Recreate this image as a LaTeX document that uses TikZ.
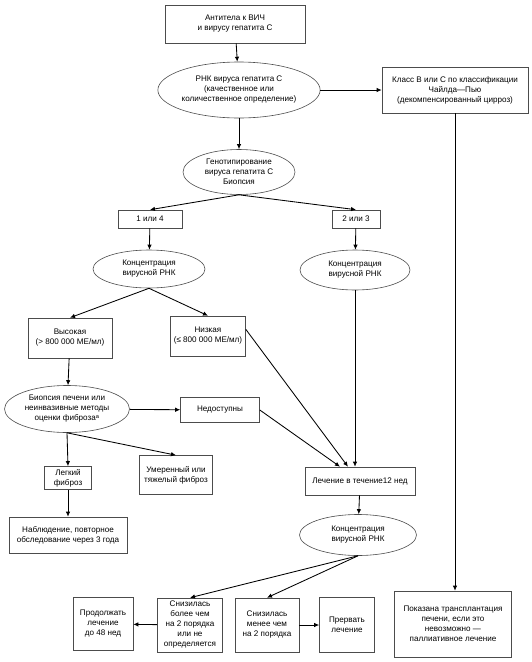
\documentclass[tikz,border=0pt]{standalone}
\usepackage{fontspec}
\setmainfont{Liberation Sans}
\usetikzlibrary{shapes.geometric, arrows.meta, calc}

\begin{document}
\begin{tikzpicture}[x=1pt, y=-1pt,
    box/.style={draw=black!70, line width=0.6pt, rectangle, align=center, inner sep=1pt,
        font=\fontsize{8.1}{10}\selectfont},
    oval/.style={draw=black!70, line width=0.6pt, ellipse, align=center, inner sep=0pt,
        font=\fontsize{8.1}{10}\selectfont},
    arr/.style={draw=black, line width=0.85pt, -{Latex[length=5pt,width=4.5pt]}}]
    \useasboundingbox (0,0) rectangle (531,662);

    % Top of the chart
    \node[box, minimum width=140pt, minimum height=38pt] (ab) at (235,24) {Антитела к ВИЧ\\и вирусу гепатита С};
    \node[oval, minimum width=158pt, minimum height=56pt] (rna) at (239,90) {РНК вируса гепатита С\\(качественное или\\количественное определение)};
    \node[box, minimum width=146pt, minimum height=46pt] (child) at (455,90) {Класс B или C по классификации\\Чайлда—Пью\\(декомпенсированный цирроз)};
    \node[oval, minimum width=112pt, minimum height=45pt] (geno) at (239,172) {Генотипирование\\вируса гепатита С\\Биопсия};

    % Genotypes
    \node[box, minimum width=64pt, minimum height=18pt] (gA) at (150,219) {1 или 4};
    \node[box, minimum width=48pt, minimum height=18pt] (gB) at (356,219) {2 или 3};
    \node[oval, minimum width=112pt, minimum height=38pt] (concA) at (149,269) {Концентрация\\вирусной РНК};
    \node[oval, minimum width=110pt, minimum height=40pt] (concB) at (355,270) {Концентрация\\вирусной РНК};

    % Viral load and fibrosis
    \node[box, minimum width=84pt, minimum height=40pt] (high) at (70,338) {Высокая\\(> 800 000 МЕ/мл)};
    \node[box, minimum width=75pt, minimum height=40pt] (low) at (208,336) {Низкая\\(≤ 800 000 МЕ/мл)};
    \node[oval, minimum width=125pt, minimum height=47pt] (biopsy) at (67,409) {Биопсия печени или\\неинвазивные методы\\оценки фиброза\textsuperscript{а}};
    \node[box, minimum width=79pt, minimum height=25pt] (na) at (220,410) {Недоступны};
    \node[box, minimum width=47pt, minimum height=23pt] (mild) at (68,478) {Легкий\\фиброз};
    \node[box, minimum width=73pt, minimum height=39pt] (severe) at (176,475) {Умеренный или\\тяжелый фиброз};
    \node[box, minimum width=118pt, minimum height=36pt] (watch) at (68,535) {Наблюдение, повторное\\обследование через 3 года};

    % Treatment
    \node[box, minimum width=110pt, minimum height=28pt] (treat) at (360,481) {Лечение в течение12 нед};
    \node[oval, minimum width=117pt, minimum height=41pt] (concC) at (358,535) {Концентрация\\вирусной РНК};

    % Bottom row
    \node[box, minimum width=60pt, minimum height=53pt] (cont) at (103,624) {Продолжать\\лечение\\до 48 нед};
    \node[box, minimum width=65pt, minimum height=54pt] (more) at (190,625) {Снизилась\\более чем\\на 2 порядка\\или не\\определяется};
    \node[box, minimum width=64pt, minimum height=54pt] (less) at (267,625) {Снизилась\\менее чем\\на 2 порядка};
    \node[box, minimum width=55pt, minimum height=55pt] (stop) at (347,625) {Прервать\\лечение};
    \node[box, minimum width=117pt, minimum height=66pt] (transp) at (453,624) {Показана трансплантация\\печени, если это\\невозможно —\\паллиативное лечение};

    % Connectors
    \draw[arr] (ab) -- (rna);
    \draw[arr] (rna) -- (child);
    \draw[arr] (rna) -- (geno);
    \draw[arr] (child.south) -- (child.south |- transp.north);
    \draw[arr] (geno.south) -- (gA.north);
    \draw[arr] (geno.south) -- (gB.north);
    \draw[arr] (gA) -- (concA);
    \draw[arr] (gB) -- (concB);
    \draw[arr] (concA.south) -- (high.north);
    \draw[arr] (concA.south) -- (low.north);
    \draw[arr] (high) -- (biopsy);
    \draw[arr] (biopsy) -- (na);
    \draw[arr] (biopsy.south) -- (mild.north);
    \draw[arr] (biopsy.south) -- (severe.north);
    \draw[arr] (mild) -- (watch);
    \draw[arr] (na.east) -- ($(treat.north)+(-20,0)$);
    \draw[arr] (low.10) -- ($(treat.north)+(-12,0)$);
    \draw[arr] (concB) -- (concB |- treat.north);
    \draw[arr] (treat) -- (concC);
    \draw[arr] (concC.south) -- (more.north);
    \draw[arr] (concC.south) -- (less.north);
    \draw[arr] (more) -- (cont);
    \draw[arr] (less) -- (stop);

\end{tikzpicture}
\end{document}
